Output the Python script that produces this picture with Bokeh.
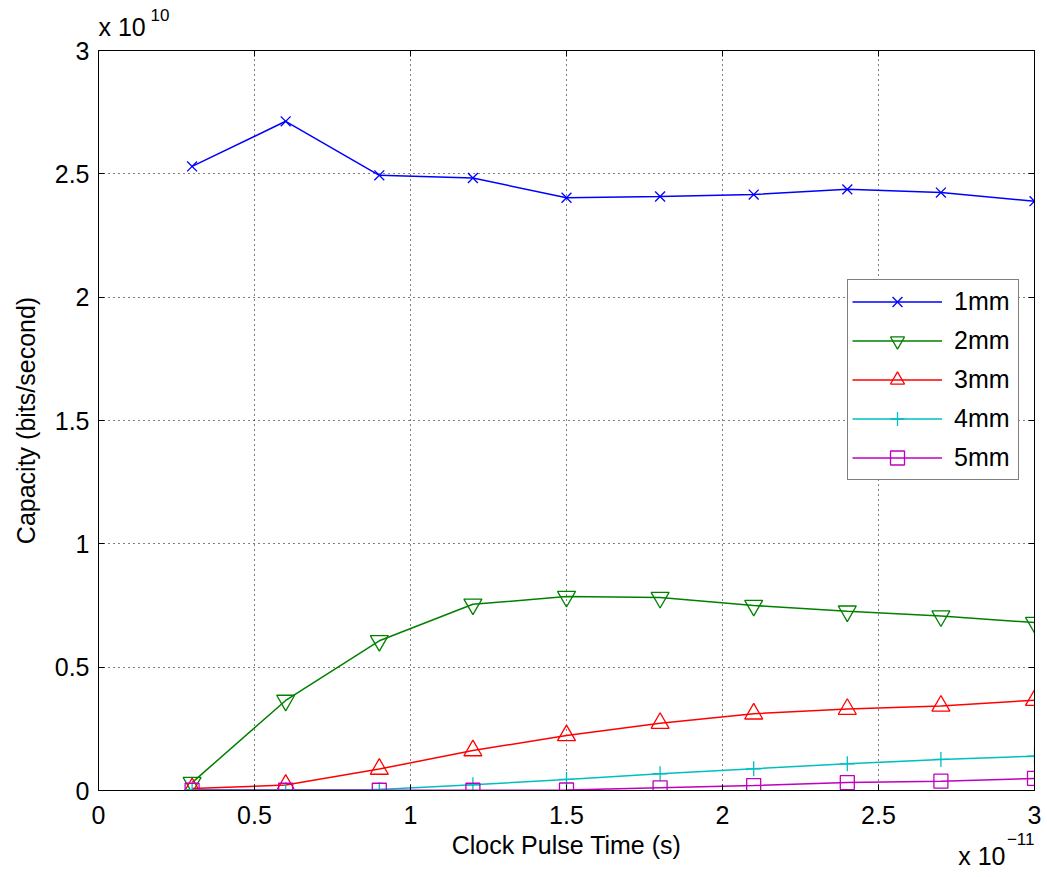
from bokeh.plotting import figure
from bokeh.models import (FixedTicker, CustomJSTickFormatter, LinearAxis, Legend,
                          LegendItem, Range1d, Title, CustomLabelingPolicy)
from bokeh.embed import file_html
from bokeh.resources import INLINE

# Clock pulse time (x 1e-11 s)
pulse_time = [0.3, 0.6, 0.9, 1.2, 1.5, 1.8, 2.1, 2.4, 2.7, 3.0]
# Capacity (x 1e10 bits/second)
cap_1mm = [2.53, 2.713, 2.494, 2.483, 2.403, 2.408, 2.416, 2.437, 2.424, 2.389]
cap_2mm = [0.032, 0.365, 0.607, 0.755, 0.786, 0.782, 0.750, 0.727, 0.707, 0.681]
cap_3mm = [0.008, 0.022, 0.087, 0.162, 0.223, 0.273, 0.311, 0.330, 0.343, 0.366]
cap_4mm = [0.003, 0.003, 0.004, 0.023, 0.045, 0.068, 0.088, 0.108, 0.126, 0.139]
cap_5mm = [0.001, 0.001, 0.001, 0.001, 0.002, 0.011, 0.020, 0.032, 0.038, 0.049]
series_names = ["1mm", "2mm", "3mm", "4mm", "5mm"]
x_ticks = [0, 0.5, 1, 1.5, 2, 2.5, 3]
y_ticks = [0, 0.5, 1, 1.5, 2, 2.5, 3]

FONT = "Liberation Sans"
FS = "25px"
FS_SUP = "17px"

p = figure(width=1046, height=876, output_backend="svg", toolbar_location=None,
           title=None, x_range=Range1d(0, 3), y_range=Range1d(0, 3),
           min_border_left=98, min_border_right=12, min_border_top=50, min_border_bottom=86)
p.outline_line_color = "black"
p.outline_line_width = 1
p.background_fill_color = "white"
p.border_fill_color = "white"

fmt = CustomJSTickFormatter(code="return String(Math.round(tick*10)/10)")
for ax, tk in ((p.xaxis[0], x_ticks), (p.yaxis[0], y_ticks)):
    ax.ticker = FixedTicker(ticks=tk)
    ax.formatter = fmt
    ax.major_tick_in = 6
    ax.major_tick_out = 0
    ax.minor_tick_line_color = None
    ax.axis_line_color = "black"
    ax.major_tick_line_color = "black"
    ax.major_label_text_font = FONT
    ax.major_label_text_font_size = FS
    ax.major_label_text_color = "black"
    ax.axis_label_text_font = FONT
    ax.axis_label_text_font_size = FS
    ax.axis_label_text_font_style = "normal"
    ax.axis_label_text_color = "black"
p.xaxis.major_label_standoff = 15
p.yaxis.major_label_standoff = 9
p.xaxis.axis_label = "Clock Pulse Time (s)"
p.xaxis.axis_label_standoff = 4
p.yaxis.axis_label = "Capacity (bits/second)"
p.yaxis.axis_label_standoff = 12

# top and right axes (ticks only, no labels drawn)
no_labels = CustomLabelingPolicy(code="return new Set()")
for loc, tk in (("above", x_ticks), ("right", y_ticks)):
    ax = LinearAxis(ticker=FixedTicker(ticks=tk), major_tick_in=6, major_tick_out=0,
                    minor_tick_line_color=None, major_label_policy=no_labels,
                    major_label_text_font_size="0px",
                    major_label_standoff=0, axis_line_color="black",
                    major_tick_line_color="black")
    p.add_layout(ax, loc)

def title(text, size, align, valign, standoff, offset):
    return Title(text=text, align=align, vertical_align=valign, offset=offset,
                 standoff=standoff, text_font=FONT, text_font_size=size,
                 text_font_style="normal", text_color="black")

# y-axis exponent "x 10^10" above the frame (first added sits nearest the frame)
p.add_layout(title("x 10", FS, "left", "bottom", 19, 0), "above")
p.add_layout(title("10", FS_SUP, "left", "bottom", -39, 52), "above")
# x-axis exponent "x 10^-11" below the frame
p.add_layout(title("\u221211", FS_SUP, "right", "top", -58, 0), "below")
p.add_layout(title("x 10", FS, "right", "top", -40, 29), "below")

p.xgrid.ticker = FixedTicker(ticks=x_ticks)
p.ygrid.ticker = FixedTicker(ticks=y_ticks)
for g in (p.xgrid[0], p.ygrid[0]):
    g.grid_line_color = "black"
    g.grid_line_dash = "1 4"
    g.grid_line_alpha = 1
    g.grid_line_width = 1

colors = ["#0000FF", "#008000", "#FF0000", "#00BFBF", "#BF00BF"]
markers = ["x", "inverted_triangle", "triangle", "cross", "square"]
sizes = [14, 18, 18, 15, 14]
data = [cap_1mm, cap_2mm, cap_3mm, cap_4mm, cap_5mm]

items = []
for name, ys, c, m, s in zip(series_names, data, colors, markers, sizes):
    l = p.line(pulse_time, ys, line_color=c, line_width=1.5)
    sc = p.scatter(pulse_time, ys, marker=m, size=s, line_color=c, fill_color=None,
                   line_width=1.3)
    items.append(LegendItem(label=name, renderers=[l, sc]))

legend = Legend(items=items, location=(749, 310), padding=4, spacing=4,
                glyph_width=90, glyph_height=35, label_standoff=12, label_width=60,
                label_text_font=FONT, label_text_font_size=FS, label_text_color="black",
                border_line_color="black", border_line_width=1,
                background_fill_color="white", background_fill_alpha=1,
                margin=0)
p.add_layout(legend, "center")

open("out.html", "w").write(file_html(p, INLINE))
